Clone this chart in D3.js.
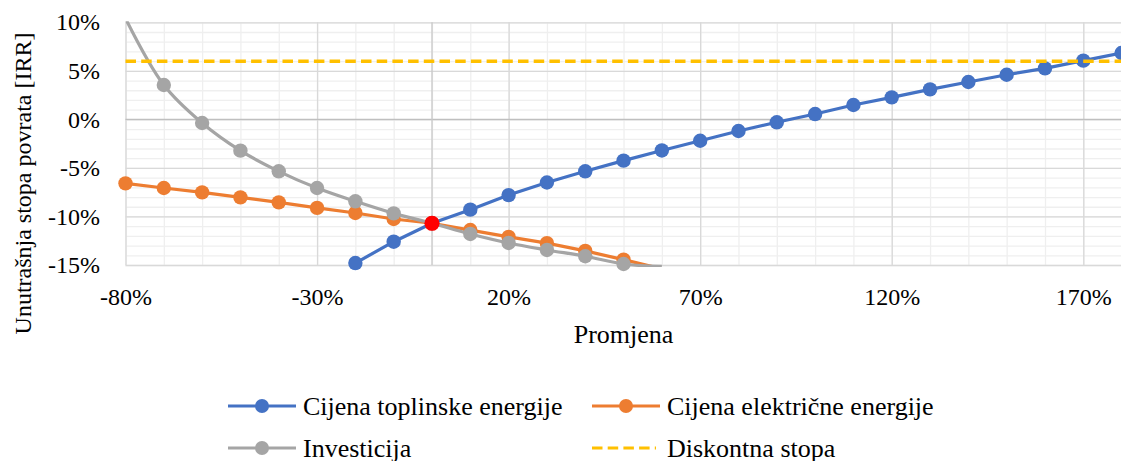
<!DOCTYPE html>
<html><head><meta charset="utf-8"><script src="https://cdn.jsdelivr.net/npm/d3@7"></script></head>
<body style="margin:0">
<script>
// data (IRR in %, change in %)
var heatX   = [-20,-10,0,10,20,30,40,50,60,70,80,90,100,110,120,130,140,150,160,170,180];
var heatIRR = [-14.8,-12.6,-10.7,-9.3,-7.8,-6.5,-5.35,-4.25,-3.2,-2.2,-1.2,-0.3,0.55,1.48,2.27,3.09,3.85,4.6,5.25,6.05,6.84];

var elecX   = [-80,-70,-60,-50,-40,-30,-20,-10,0,10,20,30,40,50,60];
var elecIRR = [-6.59,-7.07,-7.52,-8.03,-8.55,-9.12,-9.64,-10.26,-10.7,-11.4,-12.1,-12.75,-13.55,-14.45,-15.4];

var invX    = [-80,-70,-60,-50,-40,-30,-20,-10,0,10,20,30,40,50,60];
var invIRR  = [10.4,3.54,-0.37,-3.22,-5.35,-7.07,-8.44,-9.68,-10.7,-11.8,-12.73,-13.45,-14.1,-14.9,-15.15];

var discX   = [-80,180];
var discIRR = [6,6];

var baseX = [0], baseIRR = [-10.7];

var xTicks = [-80,-30,20,70,120,170];
var yTicks = [-15,-10,-5,0,5,10];

var seriesNames = ["Cijena toplinske energije","Cijena elektri\u010Dne energije","Investicija","Diskontna stopa"];
var yTitle = "Unutra\u0161nja stopa povrata [IRR]";

var serif = "'Liberation Serif'";

// graph
var generalWidth = 1121,
    margin = {top: 22.3, right: -0.6, bottom: 196, left: 125.5},
    width = generalWidth - margin.left - margin.right,
    height = 461 - margin.top - margin.bottom;

var root = d3.select("body").append("svg")
    .attr("width", generalWidth)
    .attr("height", 461);

var svg = root.append("g")
    .attr("transform", "translate(" + margin.left + "," + margin.top + ")");

var x = d3.scaleLinear().domain([-80,180]).range([0, width]);
var y = d3.scaleLinear().domain([-15,10]).range([height, 0]);

// minor grid
var minorX = d3.range(-80, 181, 10), minorY = d3.range(-15, 11, 1);
svg.append("g")
    .call(d3.axisBottom(x).tickValues(minorX).tickSize(height).tickFormat(""))
    .call(g => g.select(".domain").remove())
    .selectAll("line").attr("stroke", "#efefef").attr("stroke-width", 1.3);
svg.append("g")
    .call(d3.axisLeft(y).tickValues(minorY).tickSize(-width).tickFormat(""))
    .call(g => g.select(".domain").remove())
    .selectAll("line").attr("stroke", "#efefef").attr("stroke-width", 1.3);

// major grid
svg.append("g")
    .call(d3.axisBottom(x).tickValues(xTicks).tickSize(height).tickFormat(""))
    .call(g => g.select(".domain").remove())
    .selectAll("line").attr("stroke", "#d9d9d9").attr("stroke-width", 1.3);
svg.append("g")
    .call(d3.axisLeft(y).tickValues(yTicks).tickSize(-width).tickFormat(""))
    .call(g => g.select(".domain").remove())
    .selectAll("line").attr("stroke", "#d9d9d9").attr("stroke-width", 1.3);

// axis lines at zero
svg.append("line")
    .attr("x1", 0).attr("x2", width).attr("y1", y(0)).attr("y2", y(0))
    .attr("stroke", "#bfbfbf").attr("stroke-width", 1.3);
svg.append("line")
    .attr("x1", x(0)).attr("x2", x(0)).attr("y1", 0).attr("y2", height)
    .attr("stroke", "#c8c8c8").attr("stroke-width", 1.3);

// tick labels
svg.append("g")
    .call(d3.axisLeft(y).tickValues(yTicks).tickSize(0).tickPadding(25.5).tickFormat(d => d + "%"))
    .call(g => g.select(".domain").remove())
    .selectAll("text")
      .style("font-family", serif).style("font-size", "24px").style("fill", "#000");

svg.append("g")
    .attr("transform", "translate(0," + height + ")")
    .call(d3.axisBottom(x).tickValues(xTicks).tickSize(0).tickPadding(23).tickFormat(d => d + "%"))
    .call(g => g.select(".domain").remove())
    .selectAll("text")
      .style("font-family", serif).style("font-size", "24px").style("fill", "#000");

// axis titles
root.append("text")
    .attr("x", margin.left + width / 2)
    .attr("y", 343)
    .attr("text-anchor", "middle")
    .style("font-family", serif)
    .style("font-size", "26px")
    .text("Promjena");

root.append("text")
    .attr("transform", "translate(31,183.5) rotate(-90)")
    .attr("text-anchor", "middle")
    .style("font-family", serif)
    .style("font-size", "24px")
    .text(yTitle);

// clip
root.append("defs").append("clipPath").attr("id", "plotclip")
  .append("rect").attr("x", 0).attr("y", -1).attr("width", width).attr("height", height + 3);

var line = d3.line().x(d => x(d[0])).y(d => y(d[1]));
var smooth = d3.line().x(d => x(d[0])).y(d => y(d[1])).curve(d3.curveCatmullRom.alpha(0.5));

var series = [
  {name: seriesNames[0], xs: heatX, ys: heatIRR, color: "#4472C4", gen: line},
  {name: seriesNames[1], xs: elecX, ys: elecIRR, color: "#ED7D31", gen: line},
  {name: seriesNames[2], xs: invX,  ys: invIRR,  color: "#A5A5A5", gen: smooth}
];

series.forEach(s => {
  var pts = s.xs.map((v, i) => [v, s.ys[i]]);
  var g = svg.append("g");
  g.append("path")
      .attr("clip-path", "url(#plotclip)")
      .attr("d", s.gen(pts))
      .attr("fill", "none")
      .attr("stroke", s.color)
      .attr("stroke-width", 3.2)
      .attr("stroke-linejoin", "round");
  g.selectAll("circle")
      .data(pts.filter(p => p[1] >= -15 && p[1] <= 10))
    .enter().append("circle")
      .attr("cx", d => x(d[0]))
      .attr("cy", d => y(d[1]))
      .attr("r", 7.2)
      .attr("fill", s.color);
});

// discount rate
svg.append("path")
    .attr("d", line(discX.map((v, i) => [v, discIRR[i]])))
    .attr("fill", "none")
    .attr("stroke", "#FFC000")
    .attr("stroke-width", 3.5)
    .attr("stroke-dasharray", "10.5,5.2");

// base point
svg.selectAll(".base")
    .data(baseX.map((v, i) => [v, baseIRR[i]]))
  .enter().append("circle")
    .attr("cx", d => x(d[0]))
    .attr("cy", d => y(d[1]))
    .attr("r", 7.6)
    .attr("fill", "#FF0000");

// legend
var legendItems = [
  {name: seriesNames[0], color: "#4472C4", lx: 228, ly: 406, dash: false},
  {name: seriesNames[1], color: "#ED7D31", lx: 592, ly: 406, dash: false},
  {name: seriesNames[2], color: "#A5A5A5", lx: 228, ly: 448, dash: false},
  {name: seriesNames[3], color: "#FFC000", lx: 592, ly: 448, dash: true}
];

var legend = root.selectAll(".legend")
    .data(legendItems)
  .enter().append("g")
    .attr("class", "legend")
    .attr("transform", d => "translate(" + d.lx + "," + d.ly + ")");

legend.append("line")
    .attr("x1", 0).attr("x2", d => d.dash ? 64 : 68)
    .attr("y1", 0).attr("y2", 0)
    .attr("stroke", d => d.color)
    .attr("stroke-width", 3.2)
    .attr("stroke-dasharray", d => d.dash ? "10.5,5.2" : null);

legend.filter(d => !d.dash).append("circle")
    .attr("cx", 34).attr("cy", 0).attr("r", 7)
    .attr("fill", d => d.color);

legend.append("text")
    .attr("x", 75)
    .attr("y", 9)
    .style("font-family", serif)
    .style("font-size", "26px")
    .text(d => d.name);
</script>
</body>
</html>
